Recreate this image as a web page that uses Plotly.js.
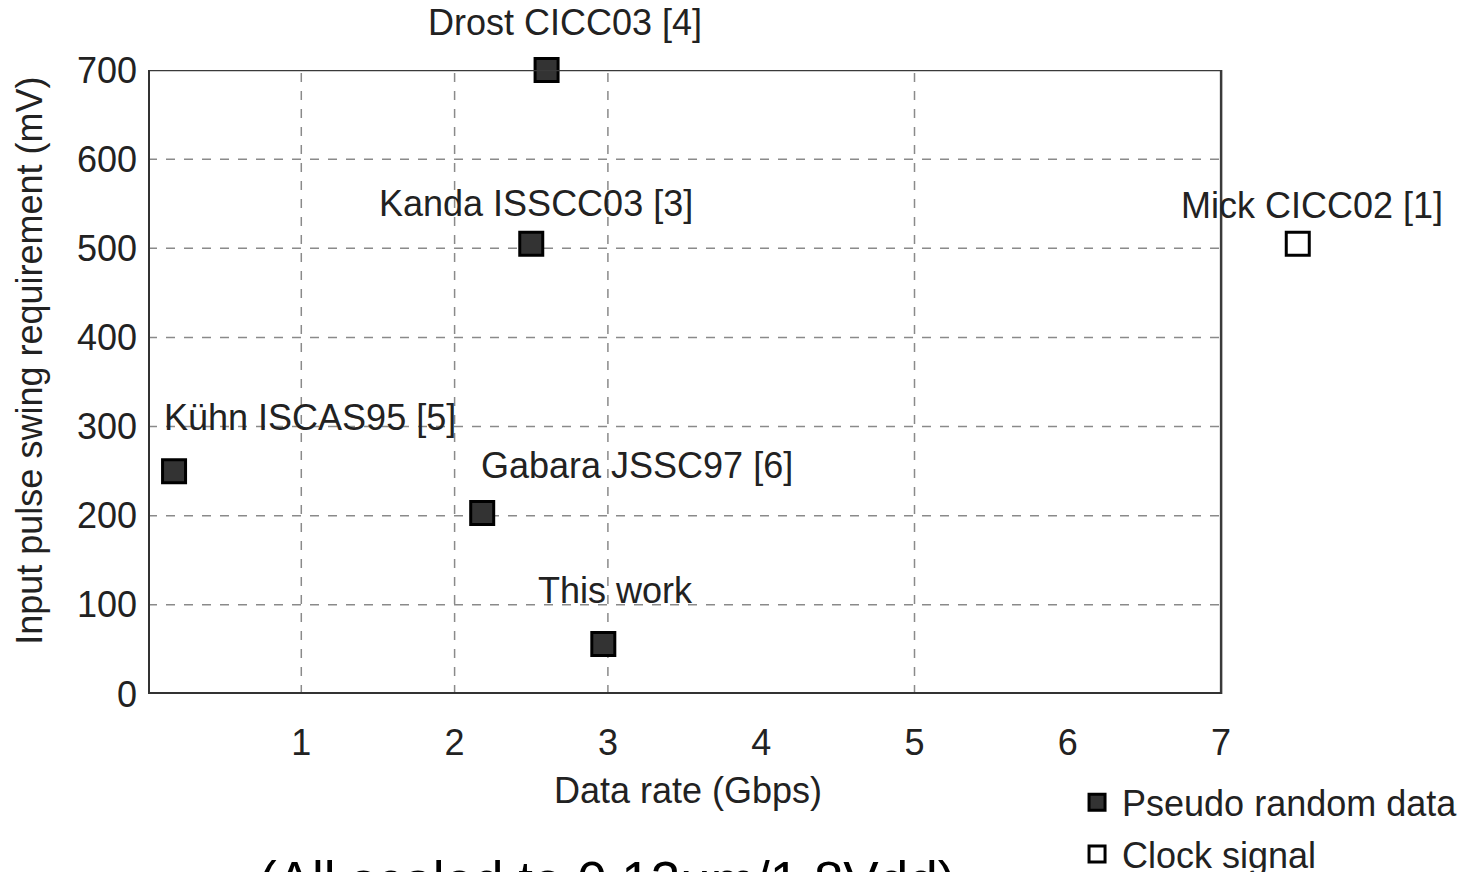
<!DOCTYPE html>
<html><head><meta charset="utf-8">
<script src="https://cdn.plot.ly/plotly-3.0.1.min.js"></script>
<style>body{margin:0;background:#fff}#c{width:1468px;height:872px}</style>
</head><body><div id="c"></div>
<script>
const prbsNames = ["Drost CICC03 [4]", "Kanda ISSCC03 [3]", "Kühn ISCAS95 [5]", "Gabara JSSC97 [6]", "This work"];
const prbsRate = [2.6, 2.5, 0.17, 2.18, 2.97];
const prbsSwing = [700, 505, 250, 203, 56];
const clockNames = ["Mick CICC02 [1]"];
const clockRate = [7.5];
const clockSwing = [505];
const xTicks = [1, 2, 3, 4, 5, 6, 7];
const yTicks = [0, 100, 200, 300, 400, 500, 600, 700];
const xGridShown = [1, 2, 3, 5];
const legendNames = ["Pseudo random data", "Clock signal"];
const xTitle = "Data rate (Gbps)";
const yTitle = "Input pulse swing requirement (mV)";
const footnote = "(All scaled to 0.13\u03bcm/1.8Vdd)";

const F = "Liberation Sans, Arial, sans-serif";
const TXT = "#222";
const xMax = xTicks[xTicks.length - 1];
const yMax = yTicks[yTicks.length - 1];
const labelShift = {
  "Drost CICC03 [4]": [18, 48],
  "Kanda ISSCC03 [3]": [5, 40],
  "Kühn ISCAS95 [5]": [136, 54],
  "Gabara JSSC97 [6]": [155, 48],
  "This work": [12, 54],
  "Mick CICC02 [1]": [14, 38]
};

const traces = [
  {x: prbsRate, y: prbsSwing, type: "scatter", mode: "markers", name: legendNames[0], legendgroup: "a", cliponaxis: false,
   marker: {symbol: "square", size: 23, color: "#333333", line: {color: "#000", width: 3}}},
  {x: clockRate, y: clockSwing, type: "scatter", mode: "markers", name: legendNames[1], legendgroup: "b", cliponaxis: false,
   marker: {symbol: "square", size: 23, color: "#ffffff", line: {color: "#000", width: 3}}}
];

const annotations = [];
function addLabels(names, xs, ys) {
  names.forEach((n, i) => {
    const s = labelShift[n];
    annotations.push({x: xs[i], y: ys[i], xref: "x", yref: "y", text: n, showarrow: false,
      xshift: s[0], yshift: s[1], font: {family: F, size: 36, color: TXT}});
  });
}
addLabels(prbsNames, prbsRate, prbsSwing);
addLabels(clockNames, clockRate, clockSwing);
annotations.push({x: 0.4154, y: -0.154, xref: "paper", yref: "paper", xanchor: "center", yanchor: "middle",
  text: xTitle, showarrow: false, font: {family: F, size: 36, color: TXT}});
annotations.push({x: -0.0908, y: 0.534, xref: "paper", yref: "paper", xanchor: "center", yanchor: "middle",
  textangle: -90, text: yTitle, showarrow: false, font: {family: F, size: 36, color: TXT}});
annotations.push({x: 0.353, y: -0.248, xref: "paper", yref: "paper", xanchor: "center", yanchor: "top",
  text: footnote, showarrow: false, font: {family: F, size: 53, color: "#000"}});

const shapes = [];
yTicks.filter(v => v > 0 && v < yMax).forEach(v => shapes.push({type: "line", xref: "x", yref: "y",
  x0: 0, x1: xMax, y0: v, y1: v, line: {color: "#8a8a8a", width: 1.5, dash: "dash"}, layer: "below"}));
xGridShown.forEach(v => shapes.push({type: "line", xref: "x", yref: "y",
  x0: v, x1: v, y0: 0, y1: yMax, line: {color: "#8a8a8a", width: 1.5, dash: "dash"}, layer: "below"}));
shapes.push({type: "rect", xref: "x", yref: "y", x0: 0, x1: xMax, y0: 0, y1: yMax,
  line: {color: "#3a3a3a", width: 2.5}, layer: "above"});
shapes.push({type: "line", xref: "x", yref: "y", x0: 0, x1: xMax, y0: 0, y1: 0,
  line: {color: "#333", width: 4}, layer: "above"});
shapes.push({type: "line", xref: "x", yref: "y", x0: 0, x1: 0, y0: 0, y1: yMax,
  line: {color: "#333", width: 4}, layer: "above"});

const layout = {
  width: 1468, height: 872,
  margin: {l: 148, r: 20, t: 70, b: 178, autoexpand: false},
  paper_bgcolor: "#fff", plot_bgcolor: "#fff",
  showlegend: true,
  legend: {x: 0.7108, y: -0.1256, xanchor: "left", yanchor: "top", itemwidth: 40,
    font: {family: F, size: 36, color: TXT}, tracegroupgap: 2, bgcolor: "rgba(0,0,0,0)"},
  xaxis: {range: [0, 8.48], tickvals: xTicks, ticktext: xTicks.map(String), ticks: "", ticklabelstandoff: 24,
    showgrid: false, zeroline: false, showline: false, automargin: false,
    tickfont: {family: F, size: 36, color: TXT}},
  yaxis: {range: [0, yMax], tickvals: yTicks, ticks: "", ticklabelstandoff: 10, automargin: false,
    showgrid: false, zeroline: false, showline: false,
    tickfont: {family: F, size: 36, color: TXT}},
  shapes: shapes,
  annotations: annotations
};
Plotly.newPlot("c", traces, layout, {displayModeBar: false, staticPlot: true});
</script></body></html>
